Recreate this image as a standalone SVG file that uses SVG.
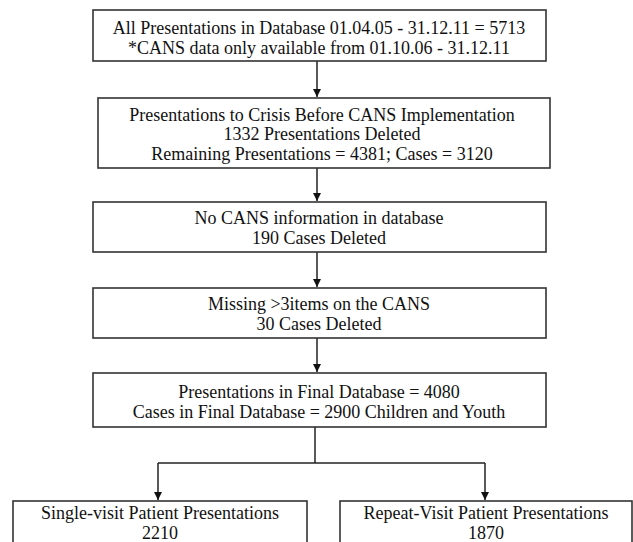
<svg xmlns="http://www.w3.org/2000/svg" width="633" height="542" viewBox="0 0 633 542">
<style>
.box{fill:#fff;stroke:#333;stroke-width:1.6}
.t{font-family:"Liberation Serif","Times New Roman",serif;font-size:18px;fill:#111;text-anchor:middle}
.c{fill:none;stroke:#222;stroke-width:1.5}
</style>
<defs>
<marker id="ah" viewBox="0 0 10 10" refX="10" refY="5" markerWidth="8" markerHeight="8" markerUnits="userSpaceOnUse" orient="auto">
<path d="M0,0 L10,5 L0,10 z" fill="#111"/>
</marker>
</defs>
<rect width="633" height="542" fill="#fff"/>
<g id="connectors">
<line class="c" x1="317" y1="61" x2="317" y2="97" marker-end="url(#ah)"/>
<line class="c" x1="317" y1="168" x2="317" y2="201" marker-end="url(#ah)"/>
<line class="c" x1="317" y1="252" x2="317" y2="287" marker-end="url(#ah)"/>
<line class="c" x1="317" y1="338" x2="317" y2="372" marker-end="url(#ah)"/>
<line class="c" x1="315" y1="427" x2="315" y2="463"/>
<line class="c" x1="158" y1="463" x2="485" y2="463"/>
<line class="c" x1="158" y1="463" x2="158" y2="500" marker-end="url(#ah)"/>
<line class="c" x1="485" y1="463" x2="485" y2="500" marker-end="url(#ah)"/>
</g>
<g id="n1">
<rect class="box" x="93" y="10" width="453" height="51"/>
<text class="t" x="319" y="34">All Presentations in Database 01.04.05 - 31.12.11 = 5713</text>
<text class="t" x="319" y="54">*CANS data only available from 01.10.06 - 31.12.11</text>
</g>
<g id="n2">
<rect class="box" x="98" y="98" width="452" height="70"/>
<text class="t" x="322" y="121">Presentations to Crisis Before CANS Implementation</text>
<text class="t" x="322" y="140">1332 Presentations Deleted</text>
<text class="t" x="322" y="160">Remaining Presentations = 4381; Cases = 3120</text>
</g>
<g id="n3">
<rect class="box" x="93" y="202" width="453" height="50"/>
<text class="t" x="319" y="224">No CANS information in database</text>
<text class="t" x="319" y="244">190 Cases Deleted</text>
</g>
<g id="n4">
<rect class="box" x="93" y="288" width="453" height="50"/>
<text class="t" x="319" y="310">Missing &gt;3items on the CANS</text>
<text class="t" x="319" y="330">30 Cases Deleted</text>
</g>
<g id="n5">
<rect class="box" x="93" y="373" width="453" height="54"/>
<text class="t" x="319" y="398">Presentations in Final Database = 4080</text>
<text class="t" x="319" y="418">Cases in Final Database = 2900 Children and Youth</text>
</g>
<g id="n6">
<rect class="box" x="13" y="501" width="294" height="50"/>
<text class="t" x="160" y="519">Single-visit Patient Presentations</text>
<text class="t" x="160" y="539">2210</text>
</g>
<g id="n7">
<rect class="box" x="340" y="501" width="292" height="50"/>
<text class="t" x="486" y="519">Repeat-Visit Patient Presentations</text>
<text class="t" x="486" y="539">1870</text>
</g>
</svg>
